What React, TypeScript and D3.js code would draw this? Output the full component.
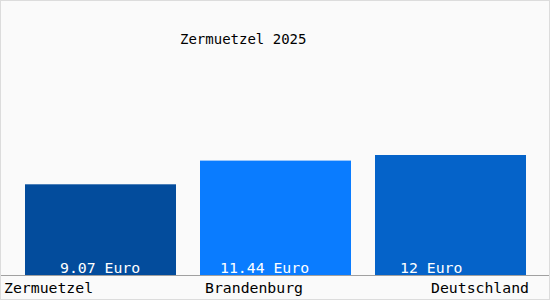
import React from "react";
import * as d3 from "d3";

const categories = ["Zermuetzel", "Brandenburg", "Deutschland"];
const values = [9.07, 11.44, 12];
const valueLabels = ["9.07 Euro", "11.44 Euro", "12 Euro"];
const title = "Zermuetzel 2025";

const colors = ["#034c9c", "#0a7cff", "#0563c9"];
const valueLabelDx = [35, 20, 25];

const W = 550;
const H = 300;
const baseY = 275;
const FONT = "'DejaVu Sans Mono', monospace";

export default function App() {
  const x = d3
    .scaleBand<string>()
    .domain(categories)
    .range([13, 538])
    .paddingInner(24 / 175)
    .paddingOuter(12 / 175);
  const y = d3.scaleLinear().domain([0, 12]).range([baseY, 155]);
  const bw = x.bandwidth();

  return (
    <svg
      width={W}
      height={H}
      style={{ position: "absolute", left: 0, top: 0 }}
      fontFamily={FONT}
    >
      <rect x={0.5} y={0.5} width={W - 1} height={H - 1} fill="#fafafa" stroke="#dcdcdc" />
      <text x={180} y={44} fontSize={14} fill="#000">
        {title}
      </text>
      {categories.map((c, i) => (
        <g key={c}>
          <rect
            x={x(c)!}
            y={y(values[i])}
            width={bw}
            height={baseY - y(values[i])}
            fill={colors[i]}
          />
          <text
            x={x(c)! + valueLabelDx[i]}
            y={273}
            fontSize={14.8}
            fill="#ffffff"
          >
            {valueLabels[i]}
          </text>
        </g>
      ))}
      <line x1={1} x2={W - 1} y1={baseY + 0.5} y2={baseY + 0.5} stroke="#a0a0a0" />
      <text x={x(categories[0])! - 21} y={293} fontSize={14.8} fill="#000">
        {categories[0]}
      </text>
      <text x={x(categories[1])! + 5} y={293} fontSize={14.8} fill="#000">
        {categories[1]}
      </text>
      <text x={x(categories[2])! + bw + 3} y={293} fontSize={14.8} fill="#000" textAnchor="end">
        {categories[2]}
      </text>
    </svg>
  );
}
